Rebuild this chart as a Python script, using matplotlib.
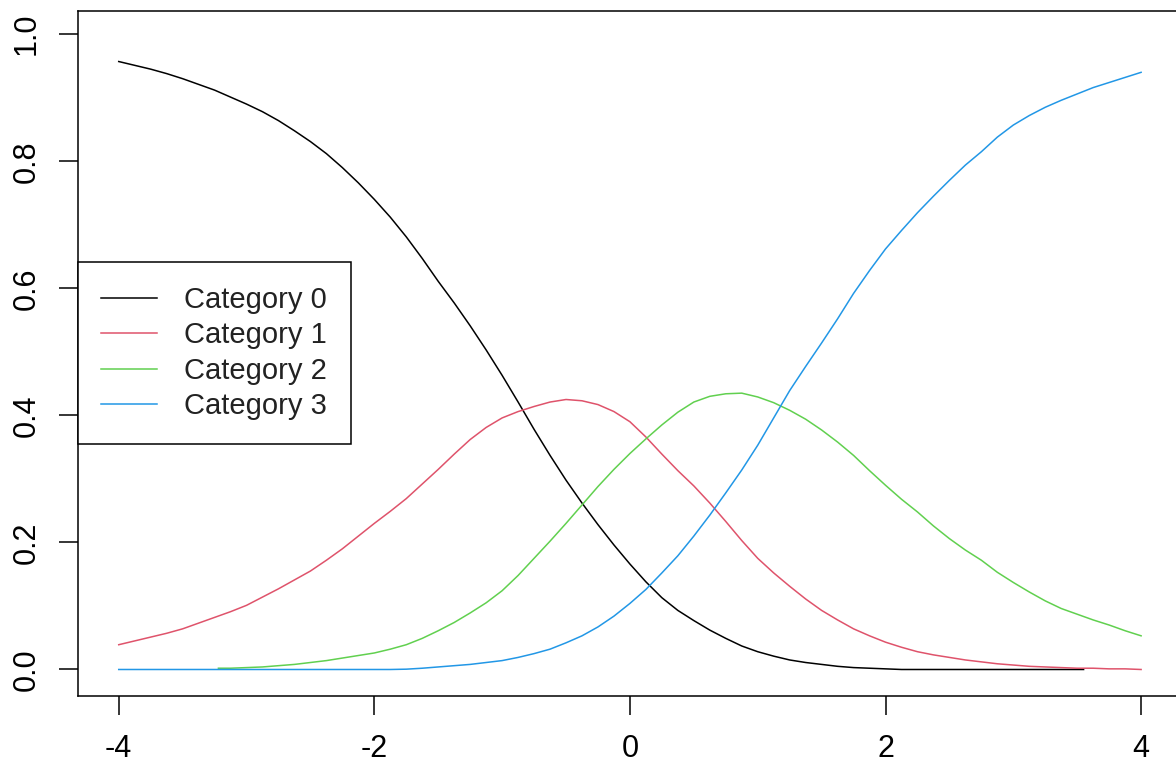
import matplotlib
matplotlib.use("Agg")
import matplotlib.pyplot as plt

# theta grid (step 0.125)
theta = [-4.0, -3.875, -3.75, -3.625, -3.5, -3.375, -3.25, -3.125,
         -3.0, -2.875, -2.75, -2.625, -2.5, -2.375, -2.25, -2.125,
         -2.0, -1.875, -1.75, -1.625, -1.5, -1.375, -1.25, -1.125,
         -1.0, -0.875, -0.75, -0.625, -0.5, -0.375, -0.25, -0.125,
         0.0, 0.125, 0.25, 0.375, 0.5, 0.625, 0.75, 0.875,
         1.0, 1.125, 1.25, 1.375, 1.5, 1.625, 1.75, 1.875,
         2.0, 2.125, 2.25, 2.375, 2.5, 2.625, 2.75, 2.875,
         3.0, 3.125, 3.25, 3.375, 3.5, 3.625, 3.75, 3.875, 4.0]

# Category 0 (line stops at ~3.55)
theta_cat0 = theta[:61] + [3.55]
cat0 = [0.957, 0.951, 0.945, 0.938, 0.930, 0.921, 0.912, 0.901,
        0.890, 0.878, 0.864, 0.848, 0.831, 0.812, 0.790, 0.766,
        0.740, 0.712, 0.681, 0.647, 0.611, 0.577, 0.541, 0.503,
        0.463, 0.421, 0.378, 0.337, 0.298, 0.262, 0.228, 0.196,
        0.166, 0.138, 0.113, 0.093, 0.077, 0.062, 0.049, 0.037,
        0.028, 0.021, 0.015, 0.011, 0.008, 0.005, 0.003, 0.002,
        0.001, 0.000, 0.000, 0.000, 0.000, 0.000, 0.000, 0.000,
        0.000, 0.000, 0.000, 0.000, 0.000, 0.000]

cat1 = [0.039, 0.045, 0.051, 0.057, 0.064, 0.073, 0.082, 0.091,
        0.101, 0.114, 0.127, 0.141, 0.155, 0.172, 0.190, 0.210,
        0.230, 0.249, 0.269, 0.292, 0.315, 0.339, 0.362, 0.381,
        0.396, 0.406, 0.414, 0.421, 0.425, 0.423, 0.417, 0.406,
        0.390, 0.366, 0.339, 0.313, 0.289, 0.262, 0.233, 0.203,
        0.175, 0.152, 0.131, 0.111, 0.093, 0.078, 0.064, 0.053,
        0.043, 0.035, 0.028, 0.023, 0.019, 0.015, 0.012, 0.009,
        0.007, 0.005, 0.004, 0.003, 0.002, 0.002, 0.001, 0.001, 0.000]

# Category 2 (line starts at ~-3.22)
theta_cat2 = [-3.22] + theta[7:]
cat2 = [0.002, 0.002,
        0.003, 0.004, 0.006, 0.008, 0.011, 0.014, 0.018, 0.022,
        0.026, 0.032, 0.039, 0.049, 0.061, 0.074, 0.089, 0.105,
        0.124, 0.148, 0.175, 0.202, 0.230, 0.259, 0.288, 0.315,
        0.340, 0.363, 0.385, 0.405, 0.421, 0.430, 0.434, 0.435,
        0.429, 0.420, 0.408, 0.394, 0.377, 0.358, 0.337, 0.313,
        0.290, 0.268, 0.248, 0.226, 0.206, 0.188, 0.172, 0.153,
        0.137, 0.122, 0.108, 0.096, 0.087, 0.078, 0.070, 0.061, 0.053]

cat3 = [0.000, 0.000, 0.000, 0.000, 0.000, 0.000, 0.000, 0.000,
        0.000, 0.000, 0.000, 0.000, 0.000, 0.000, 0.000, 0.000,
        0.000, 0.000, 0.0005, 0.002, 0.004, 0.006, 0.008, 0.011,
        0.014, 0.019, 0.025, 0.032, 0.042, 0.053, 0.067, 0.084,
        0.104, 0.126, 0.152, 0.179, 0.210, 0.243, 0.278, 0.314,
        0.353, 0.396, 0.439, 0.477, 0.514, 0.552, 0.592, 0.628,
        0.662, 0.691, 0.719, 0.745, 0.770, 0.794, 0.815, 0.838,
        0.857, 0.872, 0.885, 0.896, 0.906, 0.916, 0.924, 0.932, 0.940]

labels = ["Category 0", "Category 1", "Category 2", "Category 3"]
colors = ["black", "#DF536B", "#61D04F", "#2297E6"]

plt.rcParams['font.family'] = ['Liberation Sans', 'DejaVu Sans']

fig = plt.figure(figsize=(11.76, 7.65), dpi=100)
ax = fig.add_axes([0.0662, 0.0908, 0.9389, 0.8952])

ax.plot(theta_cat0, cat0, color=colors[0], lw=1.1, label=labels[0])
ax.plot(theta, cat1, color=colors[1], lw=1.1, label=labels[1])
ax.plot(theta_cat2, cat2, color=colors[2], lw=1.1, label=labels[2])
ax.plot(theta, cat3, color=colors[3], lw=1.1, label=labels[3])

ax.set_xlim(-4.32, 4.32)
ax.set_ylim(-0.041, 1.037)
ax.set_xticks([-4, -2, 0, 2, 4])
ax.set_xticklabels(["-4", "-2", "0", "2", "4"])
ax.set_yticks([0.0, 0.2, 0.4, 0.6, 0.8, 1.0])
ax.set_yticklabels(["0.0", "0.2", "0.4", "0.6", "0.8", "1.0"])

for s in ax.spines.values():
    s.set_linewidth(1.1)
ax.tick_params(axis='both', length=14, width=1.1, labelsize=22, color='black')
ax.tick_params(axis='x', pad=14)
ax.tick_params(axis='y', pad=12, labelrotation=90)
for lab in ax.get_yticklabels():
    lab.set_va('center')

leg = ax.legend(loc='center left', bbox_to_anchor=(0, 0.5), borderaxespad=0,
                fontsize=21, frameon=True, fancybox=False, edgecolor='black',
                framealpha=1, handlelength=1.9, handletextpad=0.95,
                borderpad=0.8, labelspacing=0.26)
leg.get_frame().set_linewidth(1.1)
for t in leg.get_texts():
    t.set_color('#222222')

fig.savefig("out.png", dpi=100)
